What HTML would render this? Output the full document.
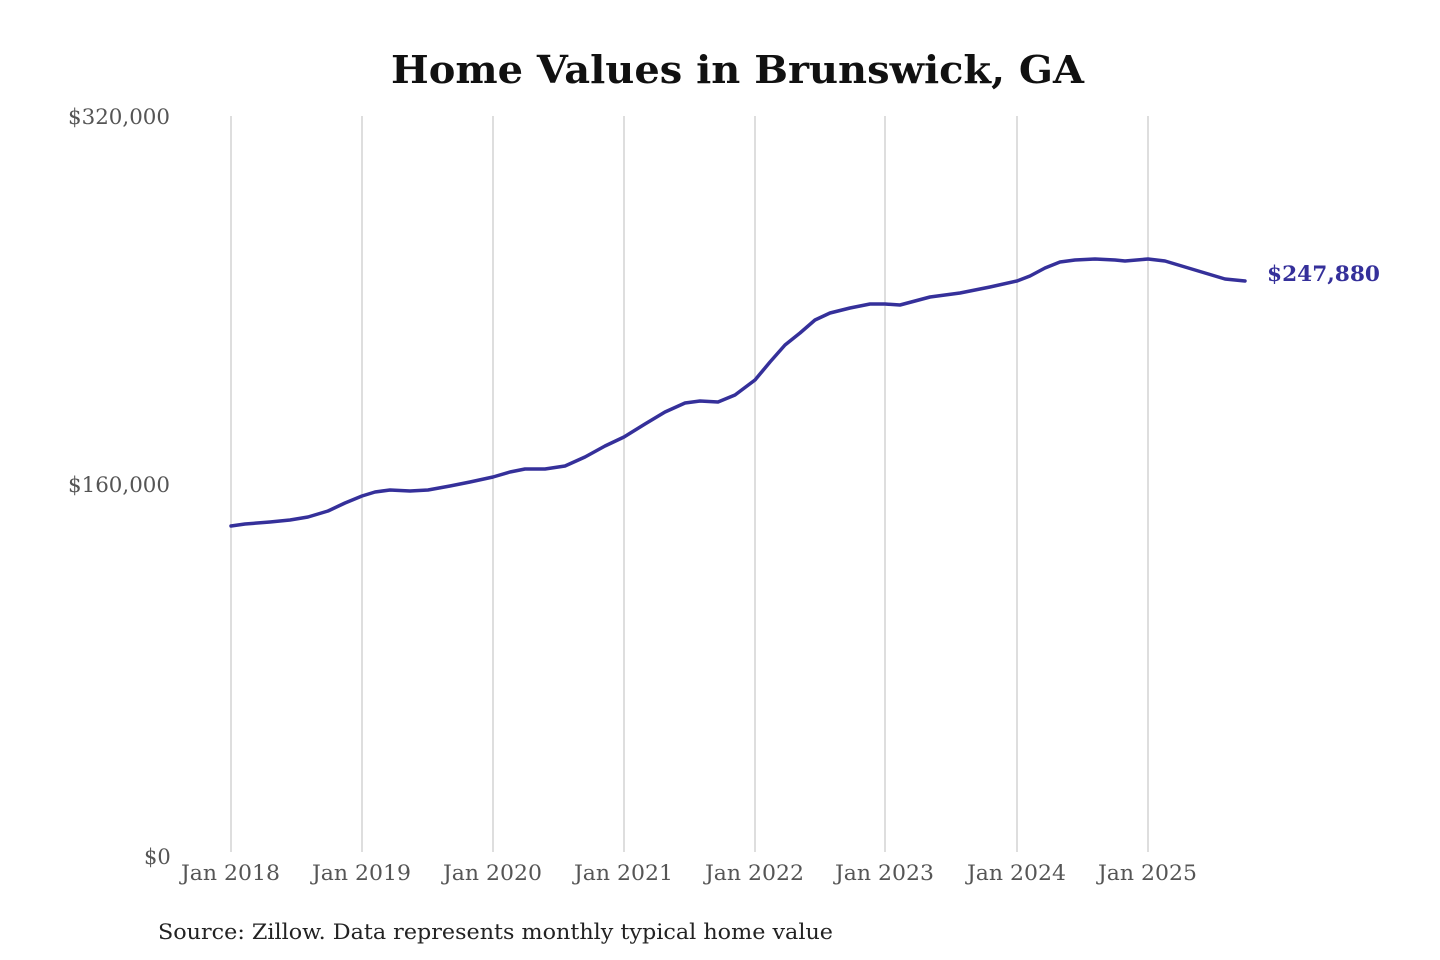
<!DOCTYPE html>
<html><head><meta charset="utf-8"><style>
html,body{margin:0;padding:0;background:#fff;}
svg{display:block}
</style></head><body>
<svg width="1440" height="960" viewBox="0 0 1440 960" xmlns="http://www.w3.org/2000/svg" font-family="'DejaVu Serif','Liberation Serif',serif">
<rect width="1440" height="960" fill="#fff"/>
<text x="391" y="83" font-size="38" font-weight="bold" fill="#111" textLength="693" lengthAdjust="spacingAndGlyphs">Home Values in Brunswick, GA</text>
<g stroke="#c8c8c8" stroke-width="1.2">
<line x1="231" y1="116" x2="231" y2="852"/>
<line x1="362" y1="116" x2="362" y2="852"/>
<line x1="493" y1="116" x2="493" y2="852"/>
<line x1="624" y1="116" x2="624" y2="852"/>
<line x1="755" y1="116" x2="755" y2="852"/>
<line x1="885" y1="116" x2="885" y2="852"/>
<line x1="1017" y1="116" x2="1017" y2="852"/>
<line x1="1148" y1="116" x2="1148" y2="852"/>
</g>
<g font-size="21" fill="#555">
<text x="68" y="124" textLength="102" lengthAdjust="spacingAndGlyphs">$320,000</text>
<text x="68" y="492" textLength="102" lengthAdjust="spacingAndGlyphs">$160,000</text>
<text x="144" y="864">$0</text>
</g>
<g font-size="21" fill="#555">
<text x="181" y="880" textLength="99" lengthAdjust="spacingAndGlyphs">Jan 2018</text>
<text x="312" y="880" textLength="99" lengthAdjust="spacingAndGlyphs">Jan 2019</text>
<text x="443" y="880" textLength="99" lengthAdjust="spacingAndGlyphs">Jan 2020</text>
<text x="574" y="880" textLength="99" lengthAdjust="spacingAndGlyphs">Jan 2021</text>
<text x="705" y="880" textLength="99" lengthAdjust="spacingAndGlyphs">Jan 2022</text>
<text x="835" y="880" textLength="99" lengthAdjust="spacingAndGlyphs">Jan 2023</text>
<text x="967" y="880" textLength="99" lengthAdjust="spacingAndGlyphs">Jan 2024</text>
<text x="1098" y="880" textLength="99" lengthAdjust="spacingAndGlyphs">Jan 2025</text>
</g>
<polyline fill="none" stroke="#35309a" stroke-width="3.5" stroke-linejoin="round" stroke-linecap="round"
points="231,526 245,524 270,522 290,520 308,517 328,511 345,503 362,496 375,492 390,490 410,491 428,490 450,486 470,482 493,477 510,472 525,469 545,469 565,466 585,457 605,446 624,437 645,424 665,412 685,403 700,401 718,402 735,395 755,380 770,362 785,345 800,333 815,320 830,313 850,308 870,304 885,304 900,305 915,301 930,297 960,293 990,287 1017,281 1030,276 1045,268 1060,262 1075,260 1095,259 1115,260 1125,261 1148,259 1165,261 1185,267 1205,273 1225,279 1245,281"/>
<text x="1267" y="281" font-size="21" font-weight="bold" fill="#35309a" textLength="113" lengthAdjust="spacingAndGlyphs">$247,880</text>
<text x="158" y="939" font-size="21" fill="#222" textLength="675" lengthAdjust="spacingAndGlyphs">Source: Zillow. Data represents monthly typical home value</text>
</svg>
</body></html>
